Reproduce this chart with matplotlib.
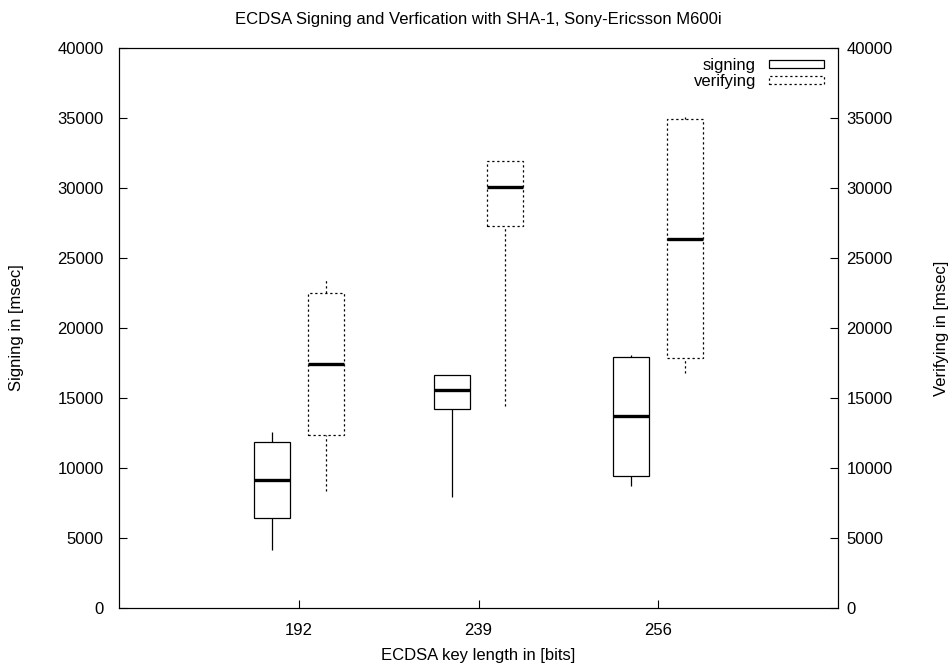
import matplotlib
matplotlib.use('Agg')
import matplotlib.pyplot as plt
from matplotlib.patches import Rectangle

plt.rcParams['font.family'] = ['Liberation Sans', 'DejaVu Sans']

key_lengths = ['192', '239', '256']

# signing: whisker low, box low, median, box high, whisker high
sign_min = [4150, 7950, 8700]
sign_q1 = [6430, 14240, 9430]
sign_med = [9140, 15570, 13710]
sign_q3 = [11880, 16640, 17950]
sign_max = [12590, 16640, 18050]

# verifying
ver_min = [8380, 14450, 16790]
ver_q1 = [12360, 27310, 17830]
ver_med = [17430, 30050, 26360]
ver_q3 = [22500, 31950, 34930]
ver_max = [23570, 31950, 35050]

pos = [1, 2, 3]
box_w = 0.2
dots = (0, (1.8, 2.2))
fs = 12

fig = plt.figure(figsize=(9.53, 6.68), dpi=100)
ax = fig.add_axes([0.1249, 0.0898, 0.7544, 0.8383])


def candles(xs, lo, q1, med, q3, hi, ls):
    ax.bar(xs, [b - a for a, b in zip(q1, q3)], bottom=q1, width=box_w,
           fill=False, edgecolor='black', linewidth=0.9, linestyle=ls)
    ax.vlines(xs, lo, q1, colors='black', linewidth=0.9, linestyles=ls)
    ax.vlines(xs, q3, hi, colors='black', linewidth=0.9, linestyles=ls)
    ax.hlines(med, [x - box_w / 2 for x in xs], [x + box_w / 2 for x in xs],
              colors='black', linewidth=2.4)


candles([p - 0.15 for p in pos], sign_min, sign_q1, sign_med, sign_q3, sign_max, '-')
candles([p + 0.15 for p in pos], ver_min, ver_q1, ver_med, ver_q3, ver_max, dots)

ax.set_xlim(0, 4)
ax.set_ylim(0, 40000)
ax.set_xticks(pos)
ax.set_xticklabels(key_lengths)
ax.set_yticks(range(0, 40001, 5000))
ax.tick_params(direction='in', length=6, labelsize=fs, pad=11)
ax.tick_params(axis='x', pad=11)

ax2 = ax.twinx()
ax2.set_ylim(0, 40000)
ax2.set_yticks(range(0, 40001, 5000))
ax2.tick_params(direction='in', length=6, labelsize=fs, pad=6)

ax.set_xlabel('ECDSA key length in [bits]', fontsize=fs, labelpad=7)
ax.set_ylabel('Signing in [msec]', fontsize=fs, labelpad=24)
ax2.set_ylabel('Verifying in [msec]', fontsize=fs, labelpad=30)
ax.set_title('ECDSA Signing and Verfication with SHA-1, Sony-Ericsson M600i',
             fontsize=fs, pad=17)

handles = [Rectangle((0, 0), 1, 1, fill=False, edgecolor='black', linewidth=0.9),
           Rectangle((0, 0), 1, 1, fill=False, edgecolor='black', linewidth=0.9, linestyle=dots)]
ax.legend(handles, ['signing', 'verifying'], loc='upper right', frameon=False,
          markerfirst=False, fontsize=fs, handlelength=3.3, handleheight=0.4,
          handletextpad=0.8, labelspacing=0.05, borderaxespad=0.2,
          bbox_to_anchor=(0.995, 1.0))

plt.savefig('out.png', dpi=100)
